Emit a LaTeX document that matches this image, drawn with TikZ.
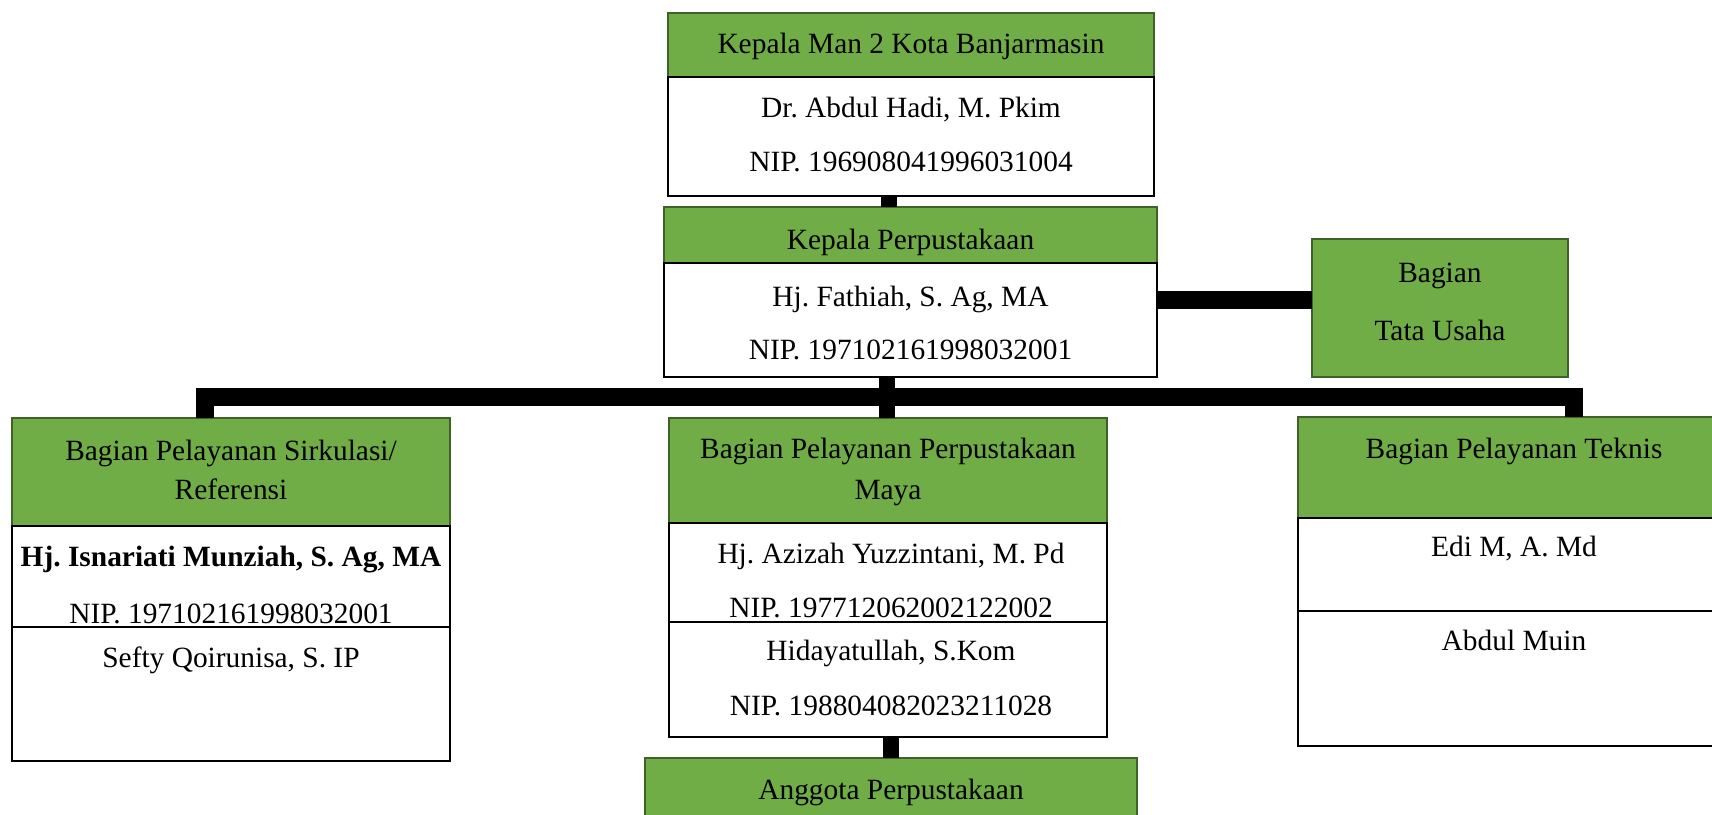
\documentclass[tikz,border=0pt]{standalone}
\usepackage{fontspec}
\setmainfont{Liberation Serif}
\usepackage{tikz}
\usetikzlibrary{positioning,calc}
\definecolor{hijauIsi}{RGB}{112,173,71}
\definecolor{hijauTepi}{RGB}{62,98,40}
\frenchspacing

\begin{document}
\begin{tikzpicture}[x=0.5pt, y=-0.5pt,
  hijau/.style={draw=hijauTepi, fill=hijauIsi, line width=1pt, outer sep=0pt, inner sep=0pt},
  putih/.style={draw=black, fill=white, line width=1.1pt, outer sep=0pt, inner sep=0pt},
  teks/.style={inner sep=0pt, text height=10pt, text depth=0pt, font=\fontsize{14.7}{17}\selectfont},
  garis/.style={line width=8pt, black}]
\useasboundingbox (0,0) rectangle (1712,814);
\clip (0,0) rectangle (1712,814);

% kotak
\node(kepala)[hijau, minimum width=243pt, minimum height=32pt] at (911,45) {};
\node(kepalaIsi)[putih, minimum width=243pt, minimum height=59.5pt, below=0pt of kepala] {};
\node(perpus)[hijau, minimum width=246.5pt, minimum height=28pt] at (910.5,235) {};
\node(perpusIsi)[putih, minimum width=246.5pt, minimum height=57pt, below=0pt of perpus] {};
\node(tu)[hijau, minimum width=128pt, minimum height=69pt] at (1440,308) {};
\node(sirkulasi)[hijau, minimum width=219pt, minimum height=54pt] at (231,472) {};
\node(sirkulasiIsi)[putih, minimum width=219pt, minimum height=50.5pt, below=0pt of sirkulasi] {};
\node(sirkulasiStaf)[putih, minimum width=219pt, minimum height=67pt, below=0pt of sirkulasiIsi] {};
\node(maya)[hijau, minimum width=219pt, minimum height=52.5pt] at (888,470.5) {};
\node(mayaIsi)[putih, minimum width=219pt, minimum height=49.5pt, below=0pt of maya] {};
\node(mayaStaf)[putih, minimum width=219pt, minimum height=57.5pt, below=0pt of mayaIsi] {};
\node(anggota)[hijau, minimum width=246pt, minimum height=40pt] at (891,798) {};
\node(teknis)[hijau, minimum width=216pt, minimum height=50.5pt] at (1514,467.5) {};
\node(teknisIsi)[putih, minimum width=216pt, minimum height=46.5pt, below=0pt of teknis] {};
\node(teknisStaf)[putih, minimum width=216pt, minimum height=67.5pt, below=0pt of teknisIsi] {};

% garis
\coordinate(palang) at (887,397);
\draw[garis] ([xshift=-11pt]kepalaIsi.south) -- ([xshift=-11pt]kepalaIsi.south |- perpus.north);
\draw[garis] ([xshift=-11.75pt]perpusIsi.south) -- ([xshift=-11.75pt]perpusIsi.south |- maya.north);
\draw[garis, line width=9pt] ([xshift=-13.25pt]sirkulasi.north) |- (palang) -| ([xshift=29.75pt]teknis.north);
\draw[garis, line width=9.3pt] ([yshift=10pt]perpusIsi.east) -- ([yshift=10pt]perpusIsi.east -| tu.west);
\draw[garis] ([xshift=1.5pt]mayaStaf.south) -- ([xshift=1.5pt]mayaStaf.south |- anggota.north);

% teks
\node(kepalaJudul)[teks] at (911,43.3) {Kepala Man 2 Kota Banjarmasin};
\node(kepalaNama)[teks] at (911,107.5) {Dr. Abdul Hadi, M. Pkim};
\node(kepalaNip)[teks] at (911,161) {NIP. 196908041996031004};
\node(perpusJudul)[teks] at (910.5,239) {Kepala Perpustakaan};
\node(perpusNama)[teks] at (910.5,296) {Hj. Fathiah, S. Ag, MA};
\node(perpusNip)[teks] at (910.5,349) {NIP. 197102161998032001};
\node(tuJudulA)[teks] at (1440,272) {Bagian};
\node(tuJudulB)[teks] at (1440,330) {Tata Usaha};
\node(sirkulasiJudulA)[teks] at (231,450.5) {Bagian Pelayanan Sirkulasi/};
\node(sirkulasiJudulB)[teks] at (231,489.7) {Referensi};
\node(sirkulasiNama)[teks, font=\fontsize{14.7}{17}\selectfont\bfseries] at (231,556.7) {Hj. Isnariati Munziah, S. Ag, MA};
\node(sirkulasiNip)[teks] at (231,613.3) {NIP. 197102161998032001};
\node(sirkulasiStafNama)[teks] at (231,657) {Sefty Qoirunisa, S. IP};
\node(mayaJudulA)[teks] at (888,448.8) {Bagian Pelayanan Perpustakaan};
\node(mayaJudulB)[teks] at (888,489.5) {Maya};
\node(mayaNama)[teks] at (891,553.3) {Hj. Azizah Yuzzintani, M. Pd};
\node(mayaNip)[teks] at (891,607.8) {NIP. 197712062002122002};
\node(mayaStafNama)[teks] at (891,650) {Hidayatullah, S.Kom};
\node(mayaStafNip)[teks] at (891,705) {NIP. 198804082023211028};
\node(anggotaJudul)[teks] at (891,789.5) {Anggota Perpustakaan};
\node(teknisJudul)[teks] at (1514,448) {Bagian Pelayanan Teknis};
\node(teknisNama)[teks] at (1514,546.7) {Edi M, A. Md};
\node(teknisStafNama)[teks] at (1514,640) {Abdul Muin};

\end{tikzpicture}
\end{document}
